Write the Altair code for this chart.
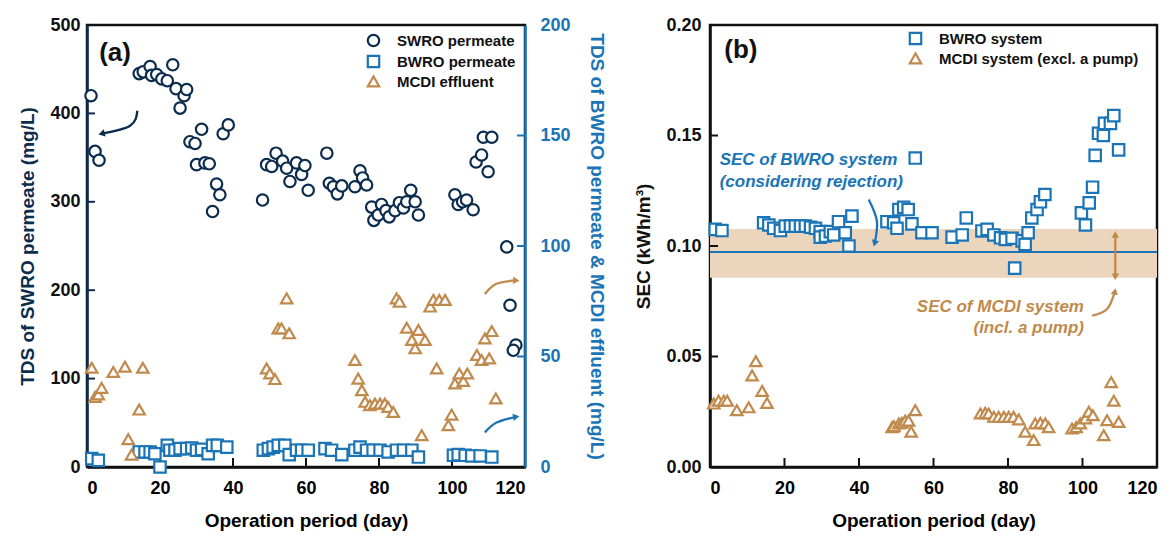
import altair as alt
import pandas as pd

# ---------------- data ----------------
SER_A = ["SWRO permeate", "BWRO permeate", "MCDI effluent"]
SER_B = ["BWRO system", "MCDI system (excl. a pump)"]

sw_day = [1.1, 2.2, 3.3, 14.3, 15.4, 17.3, 17.7, 19.1, 20.5, 22.0, 23.5, 24.4, 25.5, 26.6, 27.3,
          28.2, 29.6, 30.0, 31.4, 32.3, 33.5, 34.4, 35.5, 36.4, 37.3, 38.7,
          48.1, 49.2, 50.6, 51.8, 53.6, 54.7, 55.6, 57.4, 58.8, 59.7, 60.6,
          65.7, 66.4, 67.5, 68.6, 69.8, 73.4, 74.8, 75.5, 76.6, 78.0, 78.6, 79.8, 80.7,
          81.9, 82.8, 84.4, 85.6, 86.7, 87.6, 88.7, 89.9, 90.8,
          100.8, 101.7, 102.9, 104.0, 105.8, 106.6, 108.1, 109.9, 108.6, 110.9,
          115.0, 115.9, 117.5, 116.8]
sw_val = [420, 357, 347, 445, 447, 453, 443, 444, 439, 437, 455, 428, 406, 420, 427,
          368, 366, 342, 382, 344, 343, 289, 320, 308, 377, 387,
          302, 342, 340, 355, 346, 338, 323, 344, 331, 341, 313,
          355, 321, 317, 309, 318, 317, 335, 327, 319, 294, 279, 285, 297,
          290, 283, 290, 299, 293, 300, 313, 300, 285,
          308, 297, 300, 302, 291, 345, 353, 334, 373, 373,
          249, 183, 138, 132]

bp_day = [1.3, 3.1, 14.3, 15.9, 17.3, 18.6, 20.0, 22.0, 22.7, 24.1, 25.5, 27.3,
          28.7, 30.0, 31.4, 33.2, 34.4, 35.7, 38.3, 48.3, 49.7, 51.0, 52.4, 54.2,
          55.4, 57.4, 58.8, 60.6, 65.2, 67.0, 69.8, 73.4, 74.8, 76.6, 78.4, 80.3,
          82.5, 84.8, 86.7, 89.0, 90.8, 100.4, 101.7, 103.6, 105.4, 107.7, 110.9]
bp_val = [3.8, 3.0, 6.8, 6.8, 6.8, 6.0, 0.0, 9.8, 7.6, 7.6, 8.3, 8.3,
          8.6, 7.6, 8.0, 6.0, 9.8, 9.8, 9.0, 7.6, 8.3, 9.0, 9.8, 9.8,
          5.6, 7.6, 7.6, 7.6, 8.3, 7.6, 5.6, 7.6, 9.0, 7.6, 7.6, 7.6,
          6.8, 7.6, 7.6, 7.6, 4.5, 5.3, 5.6, 5.3, 5.0, 5.0, 4.5]

md_day = [1.3, 2.2, 3.1, 4.0, 7.2, 10.4, 11.3, 12.2, 14.3, 15.3,
          49.2, 50.1, 51.5, 52.4, 53.3, 54.7, 55.4,
          73.4, 74.3, 75.3, 76.2, 77.5, 78.9, 80.3, 81.6, 82.5, 83.9,
          84.8, 85.6, 87.6, 89.0, 89.9, 90.8, 91.7, 92.6,
          94.0, 94.9, 95.8, 96.5, 98.1,
          99.0, 99.9, 100.8, 102.0, 103.1, 104.2,
          106.8, 108.1, 109.0, 110.2, 110.9, 112.0]
md_val = [44.9, 31.7, 32.8, 35.8, 43.0, 45.4, 12.6, 5.6, 26.0, 44.9,
          44.6, 42.3, 39.8, 62.7, 62.7, 76.3, 60.5,
          48.4, 40.0, 34.8, 29.5, 28.0, 28.7, 28.7, 28.7, 27.2, 24.9,
          76.3, 74.8, 63.0, 57.5, 53.7, 62.0, 14.4, 57.5,
          72.6, 75.6, 44.6, 75.6, 75.6,
          18.9, 23.7, 37.8, 42.3, 38.9, 42.3,
          50.7, 48.4, 58.2, 49.1, 61.5, 31.0]

bs_day = [1.4, 3.2, 14.4, 15.8, 17.1, 18.9, 20.2, 21.6, 22.9, 24.3, 25.6, 27.0, 28.3, 29.6,
          29.6, 31.0, 32.3, 33.2, 34.5, 36.3, 37.3, 38.1,
          47.5, 49.3, 50.2, 50.7, 52.0, 53.2, 54.2, 55.1, 56.9, 59.6,
          65.0, 67.7, 68.8, 73.0, 74.4, 76.2, 78.0, 79.3, 81.1, 81.8, 83.8, 84.6,
          85.4, 86.4, 87.8, 88.7, 89.9,
          99.7, 100.8, 101.8, 102.7, 103.4, 104.3, 105.6, 105.9, 107.5, 108.4, 109.7]
bs_val = [0.1075, 0.107, 0.1105, 0.1095, 0.108, 0.107, 0.109, 0.109, 0.109, 0.109, 0.109, 0.1085, 0.108, 0.1065,
          0.104, 0.1045, 0.1065, 0.105, 0.111, 0.106, 0.100, 0.1135,
          0.111, 0.1105, 0.108, 0.1165, 0.1175, 0.1165, 0.110, 0.1398, 0.106, 0.106,
          0.104, 0.105, 0.1127, 0.1068, 0.1075, 0.105, 0.1037, 0.103, 0.1035, 0.090, 0.1023, 0.1007,
          0.106, 0.1127, 0.1165, 0.120, 0.1233,
          0.115, 0.1095, 0.1195, 0.1266, 0.141, 0.151, 0.150, 0.1555, 0.1555, 0.159, 0.1435]

ms_day = [1.0, 2.3, 3.7, 4.6, 7.2, 10.4, 11.3, 12.3, 14.0, 15.3,
          48.9, 49.4, 50.7, 51.5, 52.4, 53.3, 54.0, 55.1,
          72.6, 73.9, 74.8, 76.2, 77.5, 78.9, 80.2, 81.5, 82.9, 84.6,
          86.9, 87.3, 88.7, 90.0, 90.9,
          97.2, 98.3, 99.4, 100.8, 101.7, 102.8,
          105.7, 106.6, 107.7, 108.4, 109.7]
ms_val = [0.0287, 0.030, 0.030, 0.030, 0.0257, 0.027, 0.0414, 0.0479, 0.0344, 0.029,
          0.018, 0.0185, 0.0197, 0.020, 0.021, 0.021, 0.016, 0.0257,
          0.0242, 0.0245, 0.0242, 0.0227, 0.0227, 0.0227, 0.0227, 0.0227, 0.0215, 0.016,
          0.0122, 0.0197, 0.020, 0.0197, 0.018,
          0.0174, 0.018, 0.0197, 0.022, 0.025, 0.0234,
          0.0144, 0.0212, 0.0384, 0.030, 0.0204]

band_lo, band_hi = 0.0856, 0.1077
bwro_line = 0.0973

x_ticks = [0, 20, 40, 60, 80, 100, 120]
yl_ticks = [0, 100, 200, 300, 400, 500]
yr_ticks = [0, 50, 100, 150, 200]
yb_ticks = [0, 0.05, 0.10, 0.15, 0.20]

# annotation arrows (data units)
arr_a_navy = {"day": [13.8, 11.8, 4.0], "v": [403, 386, 377]}
arr_a_tan = {"day": [109.0, 112.2, 117.6], "v": [78.3, 82.9, 84.4]}
arr_a_blue = {"day": [109.0, 112.2, 117.6], "v": [15.6, 20.1, 22.7]}
arr_b_blue = {"day": [42.6, 44.8, 44.2], "v": [0.1210, 0.1113, 0.1012]}
arr_b_tan = {"day": [102.6, 106.6, 108.7], "v": [0.0685, 0.0715, 0.0795]}
dbl_b = {"day": [108.8, 108.8], "v": [0.1045, 0.0868]}

# ---------------- style ----------------
NAVY = "#0c2c4d"
BLUE = "#1b74b6"
TAN = "#c08a4d"
BAND = "#ecd5bd"
INK = "#111111"
FONT = "Liberation Sans"
WA, WB, H = 438, 447, 442
MS = 130
SW = 2.2

def df(d):
    return pd.DataFrame(d)

# ---------------- panel (a) ----------------
xa = alt.X("day:Q", scale=alt.Scale(domain=[0, 120], nice=False),
           axis=alt.Axis(values=x_ticks, title="Operation period (day)", domainColor=INK,
                         labelPadding=12, titlePadding=14))
yl = alt.Y("v:Q", scale=alt.Scale(domain=[0, 500], nice=False),
           axis=alt.Axis(values=yl_ticks, title="TDS of SWRO permeate (mg/L)", domainColor=NAVY,
                         titleColor=NAVY, labelColor=INK, labelPadding=7, titlePadding=12))
yr = alt.Y("v:Q", scale=alt.Scale(domain=[0, 200], nice=False),
           axis=alt.Axis(orient="right", values=yr_ticks,
                         title="TDS of BWRO permeate & MCDI effluent (mg/L)", domainColor=BLUE,
                         titleColor=BLUE, labelColor=BLUE, labelPadding=15, titlePadding=16))

leg_a = alt.Legend(orient="none", legendX=279, legendY=8, title=None)
st_a = alt.Stroke("s:N", scale=alt.Scale(domain=SER_A, range=[NAVY, BLUE, TAN]), legend=leg_a)
sh_a = alt.Shape("s:N", scale=alt.Scale(domain=SER_A, range=["circle", "square", "triangle-up"]), legend=leg_a)

def pts(frame, x, y, st, sh):
    return alt.Chart(frame).mark_point(fill="white", strokeWidth=SW, size=MS, opacity=1).encode(
        x=x, y=y, stroke=st, shape=sh)

def arrow(d, x, y, color, angle):
    frame = df(d)
    frame["i"] = range(len(frame))
    line = alt.Chart(frame).mark_line(color=color, strokeWidth=2.3, interpolate="natural").encode(
        x=x, y=y, order="i:Q")
    head = alt.Chart(frame.tail(1)).mark_point(shape="triangle-up", filled=True, size=55,
                                                 angle=angle, color=color, opacity=1).encode(x=x, y=y)
    return [line, head]

circ = pts(df({"day": sw_day, "v": sw_val, "s": SER_A[0]}), xa, yl, st_a, sh_a)
sq = pts(df({"day": bp_day, "v": bp_val, "s": SER_A[1]}), xa, yr, st_a, sh_a)
tri = pts(df({"day": md_day, "v": md_val, "s": SER_A[2]}), xa, yr, st_a, sh_a)

tick_l = alt.Chart(df({"v": yl_ticks[1:-1]})).mark_rule(color=NAVY, strokeWidth=2).encode(
    y=yl, x=alt.value(0), x2=alt.value(8))
tick_ba = alt.Chart(df({"day": x_ticks[1:-1]})).mark_rule(color=INK, strokeWidth=2).encode(
    x=xa, y=alt.value(H), y2=alt.value(H - 9))
tick_r = alt.Chart(df({"v": yr_ticks[1:-1]})).mark_rule(color=BLUE, strokeWidth=2).encode(
    y=yr, x=alt.value(WA), x2=alt.value(WA - 8))
lab_a = alt.Chart(df({"day": [7.7], "v": [468], "t": ["(a)"]})).mark_text(
    font=FONT, fontSize=26, fontWeight="bold", color=INK).encode(x=xa, y=yl, text="t:N")

left_group = alt.layer(tick_l, tick_ba, circ, lab_a, *arrow(arr_a_navy, xa, yl, NAVY, 255))
right_group = alt.layer(tick_r, sq, tri,
                        *arrow(arr_a_tan, xa, yr, TAN, 95),
                        *arrow(arr_a_blue, xa, yr, BLUE, 80))
panel_a = alt.layer(left_group, right_group).resolve_scale(y="independent").properties(width=WA, height=H)

# ---------------- panel (b) ----------------
xb = alt.X("day:Q", scale=alt.Scale(domain=[0, 120], nice=False),
           axis=alt.Axis(values=x_ticks, title="Operation period (day)", domainColor=INK,
                         labelPadding=12, titlePadding=14))
yb = alt.Y("v:Q", scale=alt.Scale(domain=[0, 0.2], nice=False),
           axis=alt.Axis(values=yb_ticks, format=".2f", title="SEC (kWh/m³)", domainColor=INK,
                         titleColor=INK, labelColor=INK, labelPadding=9, titlePadding=12))
leg_b = alt.Legend(orient="none", legendX=198, legendY=6, title=None)
st_b = alt.Stroke("sys:N", scale=alt.Scale(domain=SER_B, range=[BLUE, TAN]), legend=leg_b)
sh_b = alt.Shape("sys:N", scale=alt.Scale(domain=SER_B, range=["square", "triangle-up"]), legend=leg_b)

band = alt.Chart(df({"v": [band_lo], "v2": [band_hi]})).mark_rect(color=BAND).encode(
    y=yb, y2="v2:Q", x=alt.value(0), x2=alt.value(WB))
hline = alt.Chart(df({"v": [bwro_line]})).mark_rule(color=BLUE, strokeWidth=2).encode(
    y=yb, x=alt.value(0), x2=alt.value(WB))
tick_lb = alt.Chart(df({"v": yb_ticks[1:-1]})).mark_rule(color=INK, strokeWidth=2).encode(
    y=yb, x=alt.value(0), x2=alt.value(8))
tick_bb = alt.Chart(df({"day": x_ticks[1:-1]})).mark_rule(color=INK, strokeWidth=2).encode(
    x=xb, y=alt.value(H), y2=alt.value(H - 9))
sq_b = pts(df({"day": bs_day, "v": bs_val, "sys": SER_B[0]}), xb, yb, st_b, sh_b)
tri_b = pts(df({"day": ms_day, "v": ms_val, "sys": SER_B[1]}), xb, yb, st_b, sh_b)
lab_b = alt.Chart(df({"day": [8.3], "v": [0.1887], "t": ["(b)"]})).mark_text(
    font=FONT, fontSize=26, fontWeight="bold", color=INK).encode(x=xb, y=yb, text="t:N")
txt_blue = alt.Chart(df({"day": [2.6, 2.6], "v": [0.1391, 0.1291],
                         "t": ["SEC of BWRO system", "(considering rejection)"]})).mark_text(
    font=FONT, fontSize=17, fontWeight="bold", fontStyle="italic", color=BLUE, align="left").encode(
    x=xb, y=yb, text="t:N")
txt_tan = alt.Chart(df({"day": [100.4, 100.4], "v": [0.0723, 0.0631],
                        "t": ["SEC of MCDI system", "(incl. a pump)"]})).mark_text(
    font=FONT, fontSize=17, fontWeight="bold", fontStyle="italic", color=TAN, align="right").encode(
    x=xb, y=yb, text="t:N")
dbl_df = df(dbl_b)
dbl_line = alt.Chart(dbl_df).mark_line(color=TAN, strokeWidth=2.3).encode(x=xb, y=yb)
dbl_heads = alt.Chart(df({"day": dbl_b["day"], "v": [0.1052, 0.0861], "a": [0, 180]})).mark_point(
    shape="triangle-up", filled=True, size=55, color=TAN, opacity=1).encode(
    x=xb, y=yb, angle=alt.Angle("a:Q", scale=None))

panel_b = alt.layer(band, hline, tick_lb, tick_bb, sq_b, tri_b, lab_b, txt_blue, txt_tan,
                    dbl_line, dbl_heads,
                    *arrow(arr_b_blue, xb, yb, BLUE, 195),
                    *arrow(arr_b_tan, xb, yb, TAN, 12)).properties(width=WB, height=H)

chart = alt.hconcat(panel_a, panel_b, spacing=26).resolve_scale(
    x="independent", y="independent", stroke="independent", shape="independent"
).properties(
    padding={"left": 17, "top": 14, "right": 5, "bottom": 0},
    background="white",
).configure_view(stroke=INK, strokeWidth=2.5).configure_axis(
    grid=False, ticks=False, domainWidth=2.5,
    labelFont=FONT, labelFontSize=18, labelFontWeight="bold",
    titleFont=FONT, titleFontSize=19, titleFontWeight="bold",
).configure_legend(
    labelFont=FONT, labelFontSize=15, labelFontWeight="bold", labelColor=INK, labelLimit=400,
    symbolStrokeWidth=SW, symbolSize=MS, symbolFillColor="white", rowPadding=0,
    labelOffset=16, padding=0,
)

chart.save("out.html", embed_options={"renderer": "svg", "actions": False})
